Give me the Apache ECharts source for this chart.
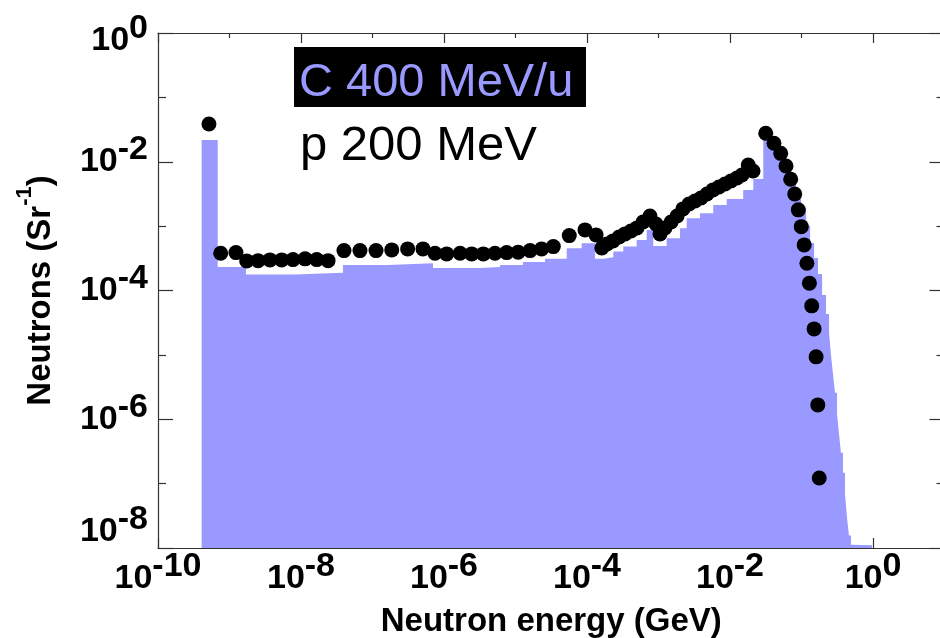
<!DOCTYPE html>
<html>
<head>
<meta charset="utf-8">
<script src="https://cdn.jsdelivr.net/npm/echarts@6/dist/echarts.min.js"></script>
<style>
  html, body { margin: 0; padding: 0; background: #ffffff; }
  #chart { width: 940px; height: 638px; }
</style>
</head>
<body>
<div id="chart"></div>
<script>
// C 400 MeV/u: histogram bin edges (GeV) and contents (Sr^-1)
const binEdges = [
  4.08e-10, 6.84e-10, 1.70e-9, 8.24e-9, 3.86e-8, 1.65e-7, 7.02e-7, 3.18e-6,
  6.07e-6, 1.27e-5, 2.59e-5, 5.20e-5, 8.43e-5, 1.29e-4, 1.69e-4, 2.33e-4,
  3.22e-4, 4.95e-4, 6.84e-4, 8.45e-4, 1.30e-3, 2.00e-3, 2.48e-3, 3.80e-3,
  5.83e-3, 8.99e-3, 1.53e-2, 2.12e-2, 2.92e-2, 3.62e-2, 4.40e-2, 5.16e-2,
  6.07e-2, 7.13e-2, 8.38e-2, 9.84e-2, 0.116, 0.132, 0.150, 0.170,
  0.194, 0.220, 0.243, 0.259, 0.276, 0.294, 0.314, 0.334,
  0.356, 0.380, 0.406, 0.433, 0.461, 0.492, 0.525, 0.968
];
const binValues = [
  2.18e-2, 2.32e-4, 1.78e-4, 1.88e-4, 2.50e-4, 2.64e-4, 2.24e-4, 2.32e-4,
  2.50e-4, 2.78e-4, 3.10e-4, 4.54e-4, 5.42e-4, 3.10e-4, 3.29e-4, 4.02e-4,
  4.81e-4, 6.11e-4, 8.73e-4, 4.93e-4, 6.49e-4, 9.27e-4, 1.33e-3, 1.58e-3,
  2.13e-3, 2.64e-3, 3.65e-3, 5.41e-3, 2.18e-2, 1.89e-2, 1.47e-2, 1.10e-2,
  8.61e-3, 6.70e-3, 3.58e-3, 1.92e-3, 1.01e-3, 5.48e-4, 3.21e-4, 1.81e-4,
  8.55e-5, 4.33e-5, 2.20e-5, 9.64e-6, 4.98e-6, 2.57e-6, 1.21e-6, 6.04e-7,
  3.01e-7, 1.47e-7, 6.78e-8, 2.94e-8, 1.57e-8, 1.12e-8, 1.10e-8
];

// p 200 MeV: measured points, energy (GeV) and yield (Sr^-1)
const pointEnergy = [
  5.16e-10, 7.53e-10, 1.23e-9, 1.74e-9, 2.51e-9, 3.68e-9, 5.37e-9, 7.73e-9,
  1.14e-8, 1.66e-8, 2.39e-8, 3.99e-8, 6.68e-8, 1.12e-7, 1.86e-7, 3.10e-7,
  5.08e-7, 7.48e-7, 1.09e-6, 1.68e-6, 2.44e-6, 3.55e-6, 5.16e-6, 7.53e-6,
  1.09e-5, 1.60e-5, 2.32e-5, 3.38e-5, 5.65e-5, 9.38e-5, 1.34e-4, 1.61e-4,
  1.91e-4, 2.31e-4, 2.81e-4, 3.40e-4, 4.12e-4, 5.00e-4, 6.07e-4, 7.60e-4,
  9.23e-4, 1.05e-3, 1.23e-3, 1.50e-3, 1.82e-3, 2.20e-3, 2.67e-3, 3.24e-3,
  3.93e-3, 4.76e-3, 5.78e-3, 7.01e-3, 8.51e-3, 1.03e-2, 1.25e-2, 1.47e-2,
  1.80e-2, 2.10e-2, 3.16e-2, 4.12e-2, 5.12e-2, 6.07e-2, 7.06e-2, 8.04e-2,
  9.02e-2, 9.93e-2, 0.109, 0.119, 0.129, 0.139, 0.150, 0.160,
  0.169, 0.177
];
const pointYield = [
  3.86e-2, 3.79e-4, 3.88e-4, 2.88e-4, 2.91e-4, 2.99e-4, 2.99e-4, 3.02e-4,
  3.10e-4, 3.02e-4, 2.91e-4, 4.17e-4, 4.17e-4, 4.17e-4, 4.27e-4, 4.43e-4,
  4.43e-4, 3.79e-4, 3.70e-4, 3.79e-4, 3.70e-4, 3.70e-4, 3.79e-4, 3.88e-4,
  3.94e-4, 4.17e-4, 4.43e-4, 4.81e-4, 7.12e-4, 8.73e-4, 7.30e-4, 4.58e-4,
  5.29e-4, 5.89e-4, 6.79e-4, 7.57e-4, 8.42e-4, 9.38e-4, 1.16e-3, 1.44e-3,
  1.08e-3, 7.57e-4, 9.38e-4, 1.16e-3, 1.44e-3, 1.85e-3, 2.21e-3, 2.46e-3,
  2.74e-3, 3.16e-3, 3.65e-3, 4.06e-3, 4.52e-3, 5.03e-3, 5.60e-3, 6.24e-3,
  8.91e-3, 7.20e-3, 2.77e-2, 1.94e-2, 1.35e-2, 8.61e-3, 5.35e-3, 3.16e-3,
  1.79e-3, 9.82e-4, 5.11e-4, 2.65e-4, 1.30e-4, 5.77e-5, 2.53e-5, 9.31e-6,
  1.67e-6, 1.22e-7
];

// Decade positions for ticks and labels
const xMajorTicks = [1e-10, 1e-8, 1e-6, 1e-4, 1e-2, 1];
const xMinorTicks = [1e-9, 1e-7, 1e-5, 1e-3, 1e-1];
const yMajorTicks = [1e-8, 1e-6, 1e-4, 1e-2, 1];
const yMinorTicks = [1e-7, 1e-5, 1e-3, 1e-1];

const X_MIN = 1e-10, X_MAX = 10;
const Y_MIN = 1e-8, Y_MAX = 1;

const FONT = '"Liberation Sans", Arial, Helvetica, sans-serif';
const AXIS_COLOR = '#333333';
const FILL_COLOR = '#9999ff';
const LABEL_SIZE = 34;

// step histogram: one point per bin left edge, closing point at the last edge
const histData = binValues.map((v, i) => [binEdges[i], v]);
histData.push([binEdges[binEdges.length - 1], binValues[binValues.length - 1]]);

const pointData = pointEnergy.map((e, i) => [e, pointYield[i]]);

// "10" with a raised exponent of the same size; padding keeps the
// mantissa on the tick and lifts the exponent by 12px.
function tok(pad) {
  return { fontSize: LABEL_SIZE, fontFamily: FONT, fontWeight: 'bold', color: '#000',
           lineHeight: LABEL_SIZE, padding: pad };
}
const powerRich = {
  b: tok([12, 0, 12, 0]),  e: tok([0, 0, 24, 0]),
  bl: tok([12, 0, 44, 0]), el: tok([0, 0, 56, 0]),   // lowest label, kept above the frame
  bh: tok([16, 0, 0, 0]),  eh: tok([4, 0, 12, 0])    // top label, kept below the frame edge
};
function exponentOf(v) { return Math.round(Math.log10(v)); }
function xLabel(v) { return '{b|10}{e|' + exponentOf(v) + '}'; }
function yLabel(v) {
  const p = exponentOf(v);
  if (p === -8) return '{bl|10}{el|' + p + '}';
  if (p === 0) return '{bh|10}{eh|' + p + '}';
  return '{b|10}{e|' + p + '}';
}

function decadeAxis(kind, position, ticks, tickLen, labelFn, withLine) {
  const isX = kind === 'x';
  return {
    type: 'log',
    logBase: 10,
    min: isX ? X_MIN : Y_MIN,
    max: isX ? X_MAX : Y_MAX,
    position: position,
    axisLine: { show: withLine, onZero: false, lineStyle: { color: AXIS_COLOR, width: 1.2 } },
    axisTick: { show: true, inside: true, length: tickLen, customValues: ticks,
                lineStyle: { color: AXIS_COLOR, width: 1.2 } },
    axisLabel: labelFn
      ? { show: true, customValues: ticks, formatter: labelFn, rich: powerRich,
          margin: isX ? 14 : 10, color: '#000' }
      : { show: false },
    splitLine: { show: false },
    minorTick: { show: false },
    minorSplitLine: { show: false }
  };
}

const xMain = decadeAxis('x', 'bottom', xMajorTicks, 10, xLabel, true);
xMain.name = 'Neutron energy (GeV)';
xMain.nameLocation = 'middle';
xMain.nameGap = 57;
xMain.nameMoveOverlap = false;
xMain.nameTextStyle = { fontSize: 33, fontFamily: FONT, fontWeight: 'bold', color: '#000' };

const yMain = decadeAxis('y', 'left', yMajorTicks, 15, yLabel, true);
yMain.name = '{a|Neutrons (Sr}{s|-1}{a|)}';
yMain.nameLocation = 'middle';
yMain.nameRotate = 90;
yMain.nameGap = 106;
yMain.nameTextStyle = {
  fontFamily: FONT, color: '#000',
  rich: {
    a: { fontSize: 33, fontFamily: FONT, fontWeight: 'bold', color: '#000', lineHeight: 33, padding: [10, 0, 0, 0] },
    s: { fontSize: 22, fontFamily: FONT, fontWeight: 'bold', color: '#000', lineHeight: 22, padding: [0, 0, 21, 0] }
  }
};

// right-hand frame ticks (the frame edge itself lies just past the canvas)
const yRightMajor = decadeAxis('y', 'right', yMajorTicks, 15, null, false);
const yRightMinor = decadeAxis('y', 'right', yMinorTicks, 8, null, false);

const option = {
  animation: false,
  backgroundColor: '#ffffff',
  grid: { left: 158, right: -4.5, top: 33, bottom: 90, containLabel: false, outerBoundsMode: 'none' },
  xAxis: [
    xMain,
    decadeAxis('x', 'bottom', xMinorTicks, 5, null, false),
    decadeAxis('x', 'top', xMajorTicks, 10, null, true),
    decadeAxis('x', 'top', xMinorTicks, 5, null, false)
  ],
  yAxis: [
    yMain,
    decadeAxis('y', 'left', yMinorTicks, 8, null, false),
    yRightMajor,
    yRightMinor
  ],
  graphic: [
    {
      type: 'rect', left: 294, top: 47, z: 10,
      shape: { width: 292, height: 60 },
      style: { fill: '#000000' }
    },
    {
      type: 'text', left: 299, top: 60, z: 11,
      style: { text: 'C 400 MeV/u', fill: FILL_COLOR, font: '47px ' + FONT }
    },
    {
      type: 'text', left: 300, top: 122, z: 11,
      style: { text: 'p 200 MeV', fill: '#000000', font: '49px ' + FONT }
    }
  ],
  series: [
    {
      name: 'C 400 MeV/u',
      type: 'line',
      step: 'end',
      xAxisIndex: 0,
      yAxisIndex: 0,
      data: histData,
      showSymbol: false,
      symbol: 'none',
      lineStyle: { width: 0, opacity: 0 },
      itemStyle: { color: FILL_COLOR },
      areaStyle: { color: FILL_COLOR, opacity: 1, origin: 'start' },
      z: 2
    },
    {
      name: 'p 200 MeV',
      type: 'scatter',
      xAxisIndex: 0,
      yAxisIndex: 0,
      data: pointData,
      symbol: 'circle',
      symbolSize: 15,
      itemStyle: { color: '#000000', opacity: 1 },
      z: 5
    }
  ]
};

const chart = echarts.init(document.getElementById('chart'), null, { renderer: 'canvas' });
chart.setOption(option);
</script>
</body>
</html>
